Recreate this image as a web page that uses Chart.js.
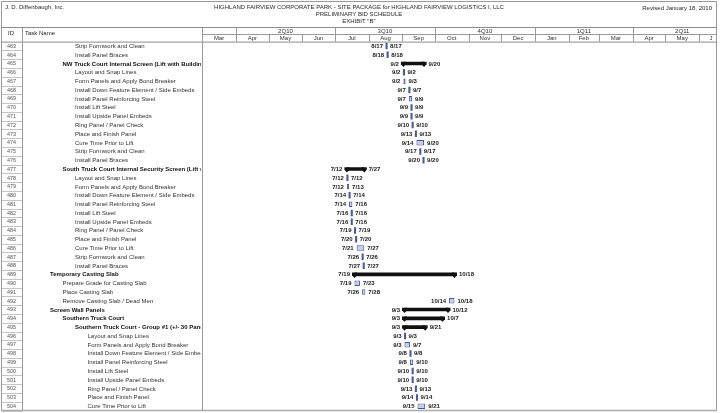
<!DOCTYPE html>
<html><head><meta charset="utf-8">
<script src="https://cdn.jsdelivr.net/npm/chart.js@4.4.1/dist/chart.umd.min.js"></script>
<style>html,body{margin:0;padding:0;background:#fff;}#wrap{width:720px;height:413px;position:relative}</style>
</head><body><div id="wrap"><canvas id="c" width="720" height="413"></canvas></div>
<script>
// ---------- data ----------
const ids = [463,464,465,466,467,468,469,470,471,472,473,474,475,476,477,478,479,480,481,482,483,484,485,486,487,488,489,490,491,492,493,494,495,496,497,498,499,500,501,502,503,504];
const taskNames = [
 'Strip Formwork and Clean','Install Panel Braces',
 'NW Truck Court Internal Screen (Lift with Building)',
 'Layout and Snap Lines','Form Panels and Apply Bond Breaker','Install Down Feature Element / Side Embeds',
 'Install Panel Reinforcing Steel','Install Lift Steel','Install Upside Panel Embeds','Ring Panel / Panel Check',
 'Place and Finish Panel','Cure Time Prior to Lift','Strip Formwork and Clean','Install Panel Braces',
 'South Truck Court Internal Security Screen (Lift with Building)',
 'Layout and Snap Lines','Form Panels and Apply Bond Breaker','Install Down Feature Element / Side Embeds',
 'Install Panel Reinforcing Steel','Install Lift Steel','Install Upside Panel Embeds','Ring Panel / Panel Check',
 'Place and Finish Panel','Cure Time Prior to Lift','Strip Formwork and Clean','Install Panel Braces',
 'Temporary Casting Slab','Prepare Grade for Casting Slab','Place Casting Slab','Remove Casting Slab / Dead Men',
 'Screen Wall Panels','Southern Truck Court','Southern Truck Court - Group #1 (+/- 30 Panels)',
 'Layout and Snap Lines','Form Panels and Apply Bond Breaker','Install Down Feature Element / Side Embeds',
 'Install Panel Reinforcing Steel','Install Lift Steel','Install Upside Panel Embeds','Ring Panel / Panel Check',
 'Place and Finish Panel','Cure Time Prior to Lift'
];
const outlineLevels = [2,2,1,2,2,2,2,2,2,2,2,2,2,2,1,2,2,2,2,2,2,2,2,2,2,2,0,1,1,1,0,1,2,3,3,3,3,3,3,3,3,3];
const summaryRows = [465,477,489,493,494,495];
const startDates = ['8/17','8/18','9/2','9/2','9/2','9/7','9/7','9/9','9/9','9/10','9/13','9/14','9/17','9/20',
 '7/12','7/12','7/12','7/14','7/14','7/16','7/16','7/19','7/20','7/21','7/26','7/27',
 '7/19','7/19','7/26','10/14','9/3','9/3','9/3','9/3','9/3','9/8','9/8','9/10','9/10','9/13','9/14','9/15'];
const finishDates = ['8/17','8/18','9/20','9/2','9/3','9/7','9/9','9/9','9/9','9/10','9/13','9/20','9/17','9/20',
 '7/27','7/12','7/13','7/14','7/16','7/16','7/16','7/19','7/20','7/27','7/26','7/27',
 '10/18','7/23','7/28','10/18','10/12','10/7','9/21','9/3','9/7','9/8','9/10','9/10','9/10','9/13','9/14','9/21'];
const monthLabels = ['Mar','Apr','May','Jun','Jul','Aug','Sep','Oct','Nov','Dec','Jan','Feb','Mar','Apr','May','J'];
const quarterLabels = ['2Q10','3Q10','4Q10','1Q11','2Q11'];
const titleLines = ['HIGHLAND FAIRVIEW CORPORATE PARK - SITE PACKAGE for HIGHLAND FAIRVIEW LOGISTICS I, LLC','PRELIMINARY BID SCHEDULE','EXHIBIT "B"'];
const companyText = 'J. D. Diffenbaugh, Inc.';
const revisedText = 'Revised January 18, 2010';

// ---------- helpers ----------
const EPOCH = Date.UTC(2010,2,1);
function dayOf(s){ const [m,d]=s.split('/').map(Number); return (Date.UTC(2010,m-1,d)-EPOCH)/86400000; }
function dayOfYMD(y,m,d){ return (Date.UTC(y,m,d)-EPOCH)/86400000; }
const FONT = '"Liberation Sans", Arial, sans-serif';

const taskData = ids.map((id,i)=> summaryRows.includes(id) ? null : [dayOf(startDates[i]), dayOf(finishDates[i])+1]);
const sumData = ids.map((id,i)=> summaryRows.includes(id) ? [dayOf(startDates[i]), dayOf(finishDates[i])+1] : null);

const gantt = {
  id:'gantt',
  beforeDraw(chart){
    const c=chart.ctx; c.save(); c.fillStyle='#fff'; c.fillRect(0,0,chart.width,chart.height); c.restore();
  },
  afterDatasetsDraw(chart){
    const c=chart.ctx; c.save();
    const mSum=chart.getDatasetMeta(1), mTask=chart.getDatasetMeta(0);
    // summary caps
    c.fillStyle='#111';
    mSum.data.forEach((el,i)=>{
      if(!sumData[i]) return;
      const l=Math.min(el.x,el.base), r=Math.max(el.x,el.base), y=el.y;
      [l,r].forEach(x=>{
        c.beginPath();
        c.moveTo(x-2.5,y-1.8); c.lineTo(x+2.5,y-1.8); c.lineTo(x+2.5,y+0.8); c.lineTo(x,y+3.5); c.lineTo(x-2.5,y+0.8); c.closePath(); c.fill();
      });
    });
    // date labels
    c.font='bold 6px '+FONT; c.fillStyle='#1a1a1a'; c.textBaseline='middle';
    ids.forEach((id,i)=>{
      const isS=!!sumData[i];
      const el=(isS?mSum:mTask).data[i];
      const l=Math.min(el.x,el.base), r=Math.max(el.x,el.base), y=el.y+0.3;
      const g=isS?4.5:3;
      c.textAlign='right'; c.fillText(startDates[i], l-g, y);
      c.textAlign='left'; c.fillText(finishDates[i], r+g, y);
    });
    c.restore();
  },
  afterDraw(chart){
    const c=chart.ctx, xs=chart.scales.x, ys=chart.scales.y, ca=chart.chartArea;
    c.save();
    const line=(x1,y1,x2,y2,col,w)=>{c.strokeStyle=col||'#8c8c8c'; c.lineWidth=w||1; c.beginPath(); c.moveTo(x1,y1); c.lineTo(x2,y2); c.stroke();};
    const L=ca.left, R=ca.right, T=ca.top, B=ca.bottom;
    // top texts
    c.fillStyle='#2a2a2a'; c.textBaseline='middle';
    c.font='6px '+FONT; c.textAlign='left'; c.fillText(companyText,5,7.5);
    c.textAlign='right'; c.fillText(revisedText,712,8);
    c.font='6px '+FONT; c.textAlign='center';
    titleLines.forEach((t,k)=>c.fillText(t,359,7.5+k*6.8));
    // frame
    line(1,1.5,717,1.5,'#999');
    line(1.5,1,1.5,411,'#999');
    line(716.5,1,716.5,411,'#999');
    line(1,410.5,717,410.5,'#aaa',1.5);
    line(1,27.5,717,27.5,'#8c8c8c');
    line(1,T+0.5,717,T+0.5,'#8c8c8c');
    line(L,34.5,R,34.5,'#9a9a9a');
    line(22.5,27.5,22.5,B,'#9a9a9a');
    line(L+0.2,27.5,L+0.2,B,'#9a9a9a');
    // header labels
    c.fillStyle='#222'; c.font='6px '+FONT; c.textAlign='center'; c.fillText('ID',11,33); c.textAlign='left'; c.fillText('Task Name',25,33);
    // quarter row
    const qStarts=[[2010,3],[2010,6],[2010,9],[2011,0],[2011,3]];
    qStarts.forEach(([y,m],k)=>{
      const x0=xs.getPixelForValue(dayOfYMD(y,m,1)), x1=xs.getPixelForValue(dayOfYMD(y,m+3,1));
      line(Math.round(x0)+0.5,27.5,Math.round(x0)+0.5,34.5,'#9a9a9a');
      c.fillStyle='#333'; c.textAlign='center'; c.fillText(quarterLabels[k],(x0+x1)/2,31.2);
    });
    // month row
    monthLabels.forEach((lab,k)=>{
      const x0=xs.getPixelForValue(dayOfYMD(2010,2+k,1)), x1=xs.getPixelForValue(dayOfYMD(2010,3+k,1));
      if(k>0) line(Math.round(x0)+0.5,34.5,Math.round(x0)+0.5,T,'#9a9a9a');
      c.fillStyle='#333'; c.textAlign='center';
      const cx = k===monthLabels.length-1 ? (x0+R)/2+3 : (x0+x1)/2;
      c.fillText(lab,cx,38.3);
    });
    // ID column rows
    ids.forEach((id,i)=>{
      const y=ys.getPixelForValue(i), h=(B-T)/ids.length;
      line(2,Math.round(y+h/2)+0.5,22,Math.round(y+h/2)+0.5,'#c4c4c4');
      c.fillStyle='#555'; c.font='5.4px '+FONT; c.textAlign='center'; c.fillText(String(id),11.5,y+0.3);
    });
    // task names
    c.save(); c.beginPath(); c.rect(23,T,L-24.5,B-T); c.clip();
    ids.forEach((id,i)=>{
      const y=ys.getPixelForValue(i), bold=summaryRows.includes(id);
      c.font=(bold?'bold ':'')+'6px '+FONT; c.fillStyle=bold?'#111':'#333'; c.textAlign='left';
      c.fillText(taskNames[i],50+outlineLevels[i]*12.5,y+0.3);
    });
    c.restore();
    c.restore();
  }
};

const ctx=document.getElementById('c').getContext('2d');
new Chart(ctx,{
  type:'bar',
  data:{labels:ids.map(String),datasets:[
    {label:'Tasks',data:taskData,grouped:false,barThickness:5.5,borderSkipped:false,
      backgroundColor:(cx)=>{const v=taskData[cx.dataIndex]; return v&&v[1]-v[0]<=1?'#4a5b9b':'#c9cfe6';},
      borderColor:'#43549a',borderWidth:(cx)=>{const v=taskData[cx.dataIndex]; return v&&v[1]-v[0]<=1?0:1;},
      inflateAmount:(cx)=>{const v=taskData[cx.dataIndex]; return v&&v[1]-v[0]<=1?0.5:0;}},
    {label:'Summary',data:sumData,grouped:false,barThickness:3.6,backgroundColor:'#111',borderWidth:0,inflateAmount:0}
  ]},
  options:{responsive:false,animation:false,indexAxis:'y',
    layout:{padding:{left:202.3,right:3.3,top:41.6,bottom:2.4}},
    scales:{x:{type:'linear',min:0,max:473.2,display:false},y:{display:false}},
    plugins:{legend:{display:false},tooltip:{enabled:false}}},
  plugins:[gantt]
});
</script></body></html>
